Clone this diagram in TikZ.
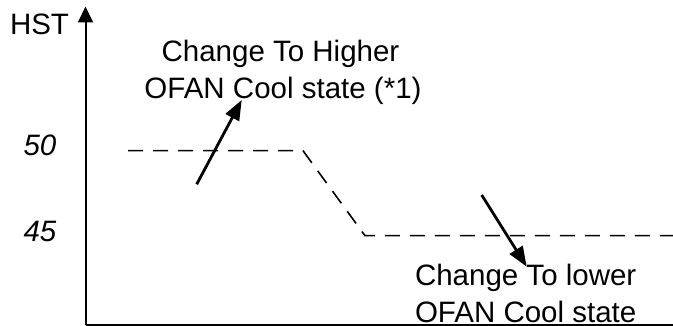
\documentclass[tikz,border=0pt]{standalone}
\usepackage{fontspec}
\setmainfont{Liberation Sans}
\usetikzlibrary{arrows.meta}
\begin{document}
\begin{tikzpicture}[x=1pt,y=-1pt,
  lbl/.style={inner sep=0pt,outer sep=0pt,anchor=base west,font=\fontsize{29.5}{34}\selectfont},
  num/.style={lbl,font=\fontsize{29.5}{34}\selectfont\itshape},
  axisarrow/.style={line width=2pt,-{Triangle[length=16pt,width=15pt]}},
  levelline/.style={line width=1.6pt,dash pattern=on 15pt off 10pt},
  changearrow/.style={line width=2.8pt,-{Triangle[length=20pt,width=15pt]}}]
\useasboundingbox (0,0) rectangle (673,326);
% axes
\coordinate (O) at (85.5,325);
\coordinate (ytop) at (85.5,6.5);
\coordinate (xend) at (673,325);
\draw[line width=2pt] (O) -- (xend);
\draw[axisarrow] (O) -- (ytop);
% labels
\node[lbl] (hst) at (10,35) {HST};
\node[num] (v50) at (23.5,156) {50};
\node[num] (v45) at (23.5,241.7) {45};
% level curve
\coordinate (a) at (128,150.7);
\coordinate (b) at (303,150.7);
\coordinate (c) at (365,235.7);
\coordinate (d) at (673,235.7);
\draw[levelline] (a) -- (b) -- (c) -- (d);
% top text
\node[lbl,anchor=base] (hi1) at (280.5,61.7) {Change To Higher};
\node[lbl,anchor=base] (hi2) at (283,98.3) {OFAN Cool state (*1)};
% bottom text
\node[lbl] (lo1) at (415,286) {Change To lower};
\node[lbl] (lo2) at (415,322.5) {OFAN Cool state};
% arrows
\coordinate (u0) at (196.7,184.3);
\coordinate (u1) at (241.7,100);
\coordinate (w0) at (481.7,195);
\coordinate (w1) at (526.7,266.7);
\draw[changearrow] (u0) -- (u1);
\draw[changearrow] (w0) -- (w1);
\end{tikzpicture}
\end{document}
